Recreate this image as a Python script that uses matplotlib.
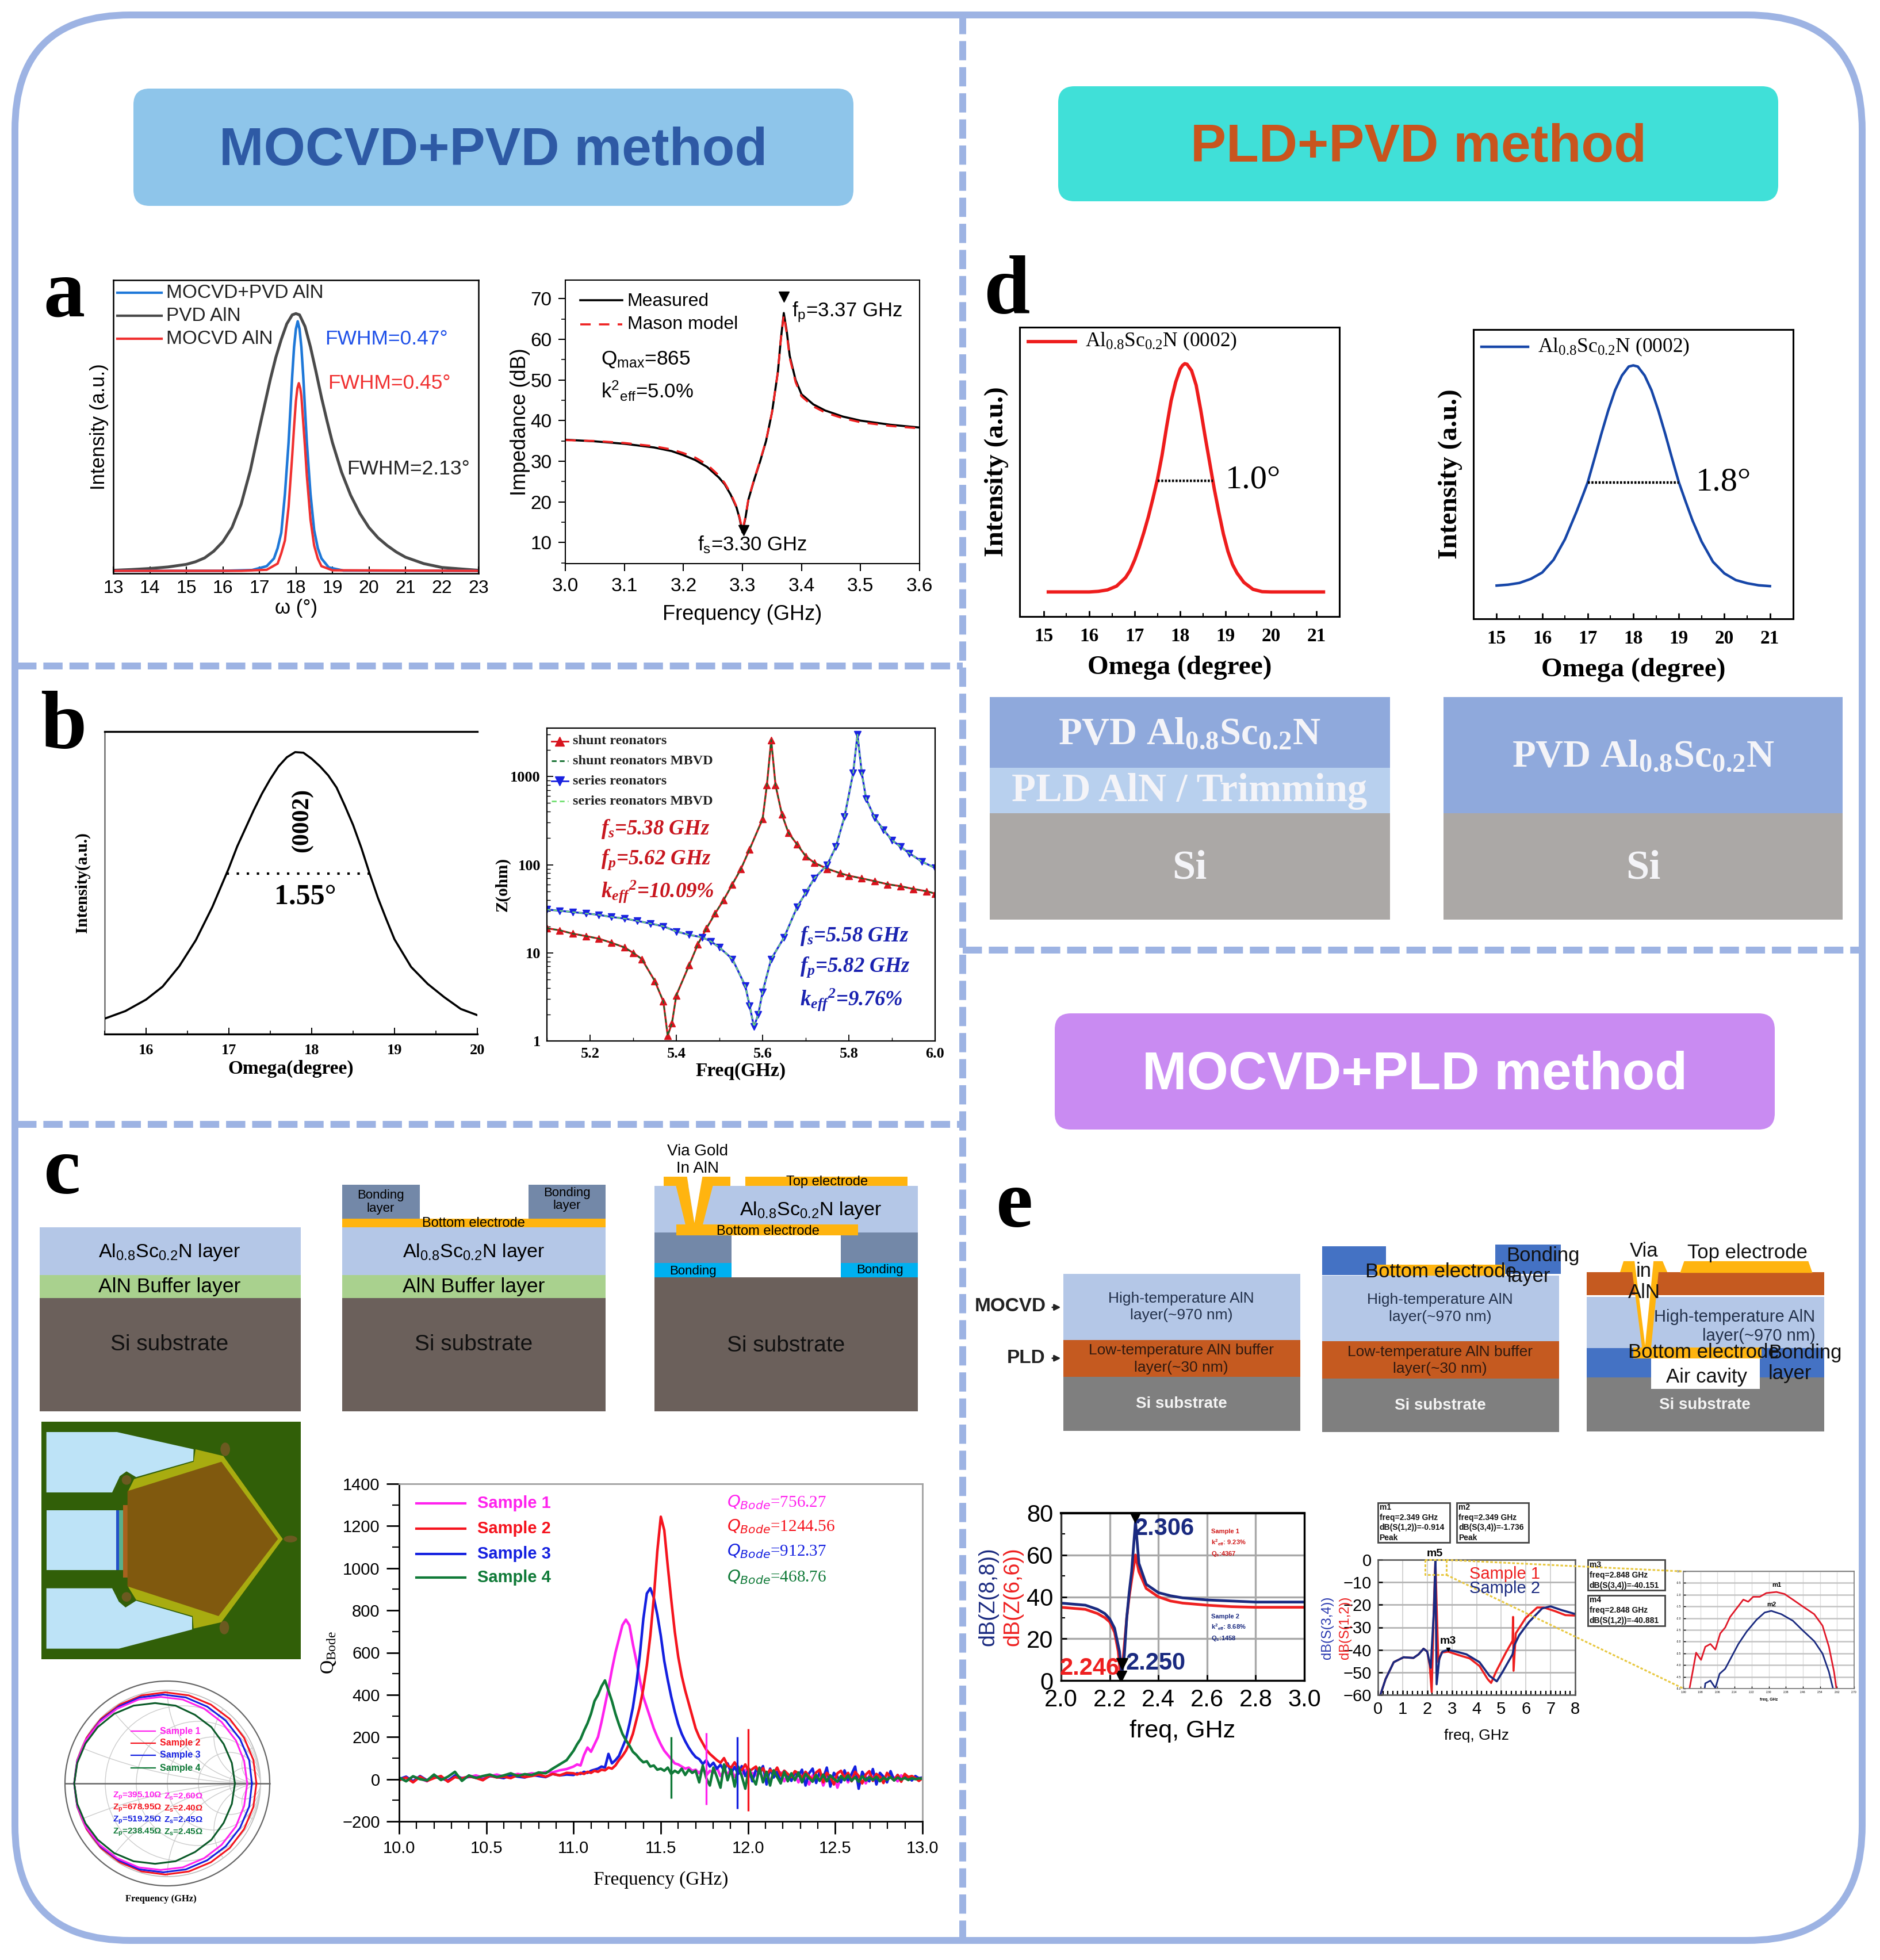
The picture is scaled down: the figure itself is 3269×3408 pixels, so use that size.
#!/usr/bin/env python3
"""
Comparison figure of AlN / AlScN growth methods, panels a to e
"""

import numpy as np
import matplotlib
matplotlib.use('Agg')
import matplotlib.pyplot as plt
from matplotlib.patches import Rectangle, Polygon, Circle, Ellipse, FancyBboxPatch

plt.rcParams['font.family'] = ['Liberation Sans', 'DejaVu Sans']
plt.rcParams['mathtext.default'] = 'regular'

W, H = 3269, 3408
SERIF = ['Liberation Serif', 'DejaVu Serif']

# panel a, rocking curves
a_pvd_x = [13, 13.5, 14, 14.5, 15, 15.25, 15.5, 15.75, 16, 16.25, 16.5, 16.75, 17, 17.15, 17.3, 17.45, 17.6, 17.75, 17.9, 18, 18.1, 18.25, 18.4, 18.55, 18.7, 18.85, 19, 19.25, 19.5, 19.75, 20, 20.25, 20.5, 20.75, 21, 21.5, 22, 23]
a_pvd_y = [0.004, 0.007, 0.011, 0.017, 0.027, 0.037, 0.052, 0.078, 0.115, 0.17, 0.26, 0.39, 0.555, 0.65, 0.745, 0.83, 0.90, 0.96, 0.995, 1.0, 0.995, 0.95, 0.87, 0.775, 0.675, 0.585, 0.50, 0.385, 0.295, 0.225, 0.17, 0.13, 0.10, 0.075, 0.055, 0.03, 0.015, 0.004]
a_mix_x = [13, 16, 16.8, 17.2, 17.4, 17.5, 17.6, 17.7, 17.8, 17.9, 17.95, 18.0, 18.05, 18.1, 18.15, 18.2, 18.3, 18.4, 18.5, 18.6, 18.7, 18.9, 19.3, 23]
a_mix_y = [0.002, 0.002, 0.005, 0.02, 0.05, 0.09, 0.15, 0.30, 0.50, 0.76, 0.87, 0.94, 0.97, 0.94, 0.87, 0.76, 0.50, 0.30, 0.16, 0.09, 0.05, 0.015, 0.003, 0.002]
a_mocvd_x = [13, 16.5, 17.2, 17.5, 17.6, 17.7, 17.8, 17.9, 17.95, 18.0, 18.04, 18.08, 18.12, 18.15, 18.2, 18.25, 18.3, 18.4, 18.5, 18.6, 18.7, 19, 23]
a_mocvd_y = [0.002, 0.002, 0.006, 0.03, 0.07, 0.12, 0.25, 0.45, 0.56, 0.66, 0.71, 0.73, 0.71, 0.68, 0.58, 0.48, 0.37, 0.20, 0.10, 0.05, 0.02, 0.004, 0.002]

a_freq = [3.00, 3.05, 3.10, 3.15, 3.18, 3.20, 3.22, 3.24, 3.26, 3.27, 3.28, 3.29, 3.295, 3.30, 3.305, 3.31, 3.32, 3.33, 3.34, 3.35, 3.36, 3.365, 3.37, 3.375, 3.38, 3.39, 3.40, 3.42, 3.44, 3.47, 3.50, 3.55, 3.60]
a_measured = [35.3, 34.9, 34.3, 33.4, 32.5, 31.5, 30.3, 28.6, 26.0, 24.3, 21.8, 18.6, 16, 12.5, 16, 20.5, 25.5, 30, 35, 42, 52, 60, 66.5, 62, 56, 50, 46.5, 44, 42.5, 41, 40, 39, 38.3]
a_mason = [35.2, 35.0, 34.5, 33.7, 32.9, 32.0, 30.9, 29.2, 26.5, 24.6, 22.1, 18.8, 16.2, 13.0, 16.2, 20.6, 25.7, 30.2, 35.1, 42, 52, 60, 66, 61.5, 55.5, 49.5, 46, 43.5, 42, 40.6, 39.6, 38.7, 38.1]

# panel b
b_omega = [15.5, 15.75, 16, 16.2, 16.4, 16.6, 16.8, 17, 17.1, 17.2, 17.3, 17.4, 17.5, 17.6, 17.7, 17.8, 17.9, 18, 18.1, 18.2, 18.3, 18.4, 18.5, 18.6, 18.7, 18.8, 18.9, 19, 19.2, 19.4, 19.6, 19.8, 20]
b_intensity = [0.051, 0.076, 0.114, 0.157, 0.224, 0.31, 0.42, 0.549, 0.62, 0.68, 0.74, 0.795, 0.843, 0.885, 0.915, 0.932, 0.93, 0.91, 0.885, 0.855, 0.815, 0.755, 0.691, 0.615, 0.53, 0.45, 0.38, 0.313, 0.222, 0.166, 0.122, 0.083, 0.0625]

b_shunt_f = [5.10, 5.13, 5.16, 5.19, 5.22, 5.25, 5.28, 5.30, 5.32, 5.35, 5.37, 5.38, 5.39, 5.40, 5.43, 5.45, 5.47, 5.49, 5.51, 5.53, 5.55, 5.57, 5.60, 5.61, 5.62, 5.63, 5.645, 5.66, 5.68, 5.70, 5.72, 5.75, 5.78, 5.80, 5.83, 5.86, 5.89, 5.92, 5.95, 5.98, 6.00]
b_shunt_z = [19, 18, 16.5, 15.5, 14.5, 13, 11.5, 10, 8.5, 4.8, 2.8, 1.15, 1.6, 3.3, 7.3, 12.5, 19, 28, 40, 60, 90, 150, 330, 800, 2600, 800, 370, 230, 170, 125, 105, 90, 80, 75, 70, 65, 60, 57, 53, 50, 47]
b_series_f = [5.10, 5.13, 5.16, 5.19, 5.22, 5.25, 5.28, 5.31, 5.34, 5.37, 5.40, 5.43, 5.46, 5.48, 5.50, 5.53, 5.56, 5.57, 5.58, 5.59, 5.60, 5.62, 5.65, 5.68, 5.70, 5.72, 5.75, 5.77, 5.79, 5.81, 5.82, 5.83, 5.84, 5.86, 5.88, 5.90, 5.92, 5.94, 5.97, 6.00]
b_series_z = [31, 30, 29, 28, 27, 25.5, 24.5, 23, 21.5, 20, 17.5, 16, 15, 13.5, 11.5, 8.5, 4.2, 2.5, 1.45, 2, 3.6, 8.5, 15, 33, 48, 70, 100, 160, 350, 1100, 3000, 1100, 560, 340, 250, 190, 160, 135, 108, 92]

# panel c, Q Bode curves, rise and peak on a shared grid, then each noisy tail
q_freq = np.r_[np.linspace(10, 10.96, 25), np.linspace(11, 11.68, 35)]
q_sample1 = [5, -8, 12, 3, -10, 15, 8, -5, 14, 6, 10, 18, 8, 14, 22, 12, 18, 25, 20, 28, 24, 35, 32, 42, 48,
             60, 70, 65, 115, 150, 130, 165, 200, 270, 350, 430, 520, 600, 665, 730, 756, 730, 640, 560, 470, 390, 340, 290, 240, 200, 165, 135, 115, 95, 75, 70, 60, 50, 55, 40]
q_sample2 = [-5, 8, -15, 12, -8, 5, 15, -12, 10, 3, 14, 6, -5, 18, 8, 12, 5, 20, 10, 15, 22, 12, 25, 18, 30,
             28, 22, 30, 25, 35, 30, 40, 35, 45, 42, 55, 50, 65, 90, 110, 135, 170, 215, 280, 345, 430, 540, 680, 860, 1080, 1244, 1180, 1010, 850, 700, 580, 490, 420, 360, 300]
q_sample3 = [0, 12, -10, 15, -5, 10, 5, -8, 18, 4, 12, 8, -3, 15, 10, 5, 18, 12, 8, 20, 15, 10, 25, 18, 22,
             20, 28, 25, 35, 30, 40, 45, 50, 60, 55, 120, 75, 90, 110, 150, 190, 260, 340, 450, 590, 760, 880, 905, 860, 780, 680, 560, 470, 390, 320, 260, 215, 180, 150, 125]
q_sample4 = [8, -10, 14, 0, -6, 22, -4, 12, 35, -8, 18, 6, 15, 22, 10, 18, 28, 15, 24, 20, 32, 28, 50, 70, 90,
             135, 165, 190, 230, 265, 310, 370, 400, 440, 468, 420, 370, 310, 260, 215, 185, 160, 130, 115, 95, 80, 85, 60, 65, 45, 50, 40, 55, 25, 40, 30, 50, 20, 45, 30]
q_tail1 = [45, 28, 52, 18, 40, 30, 55, 15, 38, 25, 48, 10, 35, 22, 44, 12, 30, 18, 38, 5, 28, -8, 25, 12, 32, -10, 22, 8, 28, -15, 20, 10, -25, 18, 5, 24, -30, 15, -8, 20, -40, 12, 25, -15, 22, 5, -5, 25, -20, 18, 10, -12, 20, 2, -8, 16, 8, -10, 18, 3, 12, -4, 10, 6, 5]
q_tail2 = [240, 200, 170, 140, 120, 105, 90, 78, 100, 65, 55, 80, 50, 42, 70, 35, 48, 60, 28, 52, 20, 45, 30, 55, 18, 40, 25, 10, 38, 28, 5, 35, 15, -5, 32, 45, -15, 30, 12, -25, 28, 40, 5, 30, -10, 35, 15, -20, 22, 38, -8, 25, 12, -18, 30, 8, -5, 20, -12, 25, 10, 15, 5, -8, 5]
q_tail3 = [105, 95, 72, 90, 60, 78, 50, 68, 42, 75, 30, 58, 25, 62, 15, 48, -10, 45, 30, 62, -25, 50, 8, 35, -12, 40, 20, -8, 32, 15, 45, -30, 28, 50, -18, 35, 5, 55, -35, 30, 12, -15, 42, -5, 25, 60, -45, 35, 8, -10, 48, -25, 30, 12, -15, 38, -5, 20, -8, 18, 10, -6, 15, 4, 8]
q_tail4 = [40, -15, 65, 5, -30, 55, 10, -40, 70, -5, 45, -35, 60, 15, -45, 50, 5, -25, 55, -15, 35, -30, 42, 10, -20, 35, -10, 28, -5, 32, -15, 25, 5, -12, 20, -8, 22, -10, 18, 2, -12, 15, -5, 18, -8, 10, -12, 14, -6, 10, -4, 12, -10, 8, -3, 10, -6, 8, -2, 6, -4, 5, 0, 4, 2]
q_spike_f = [11.56, 11.76, 11.94, 12.0]
q_spike_lo = [-90, -120, -140, -150]
q_spike_hi = [200, 220, 200, 240]
q_labels = ['Sample 1', 'Sample 2', 'Sample 3', 'Sample 4']
q_colors = ['#FF22EE', '#F5141E', '#1420E0', '#107A38']
q_values = ['756.27', '1244.56', '912.37', '468.76']

# panel c, Smith chart loops, upper half from the open end round to the short
smith_s1 = ([0.78, 0.75, 0.67, 0.53, 0.36, 0.15, -0.065, -0.28, -0.49, -0.66, -0.80, -0.88, -0.91], [0, 0.22, 0.42, 0.60, 0.73, 0.82, 0.845, 0.82, 0.73, 0.60, 0.42, 0.22, 0])
smith_s2 = ([0.87, 0.84, 0.75, 0.61, 0.425, 0.21, -0.02, -0.25, -0.465, -0.65, -0.79, -0.88, -0.91], [0, 0.23, 0.445, 0.63, 0.77, 0.86, 0.89, 0.86, 0.77, 0.63, 0.445, 0.23, 0])
smith_s3 = ([0.826, 0.80, 0.71, 0.57, 0.39, 0.18, -0.04, -0.27, -0.475, -0.655, -0.79, -0.88, -0.91], [0, 0.225, 0.434, 0.614, 0.75, 0.84, 0.868, 0.84, 0.75, 0.614, 0.434, 0.225, 0])
smith_s4 = ([0.66, 0.63, 0.55, 0.43, 0.27, 0.08, -0.12, -0.33, -0.52, -0.68, -0.80, -0.88, -0.91], [0, 0.20, 0.385, 0.55, 0.67, 0.76, 0.785, 0.76, 0.68, 0.55, 0.39, 0.20, 0])
smith_zp = ['395.10', '678.95', '519.25', '238.45']
smith_zs = ['2.60', '2.40', '2.45', '2.45']

# panel d
d_red_x = [15.1, 16, 16.2, 16.4, 16.6, 16.8, 16.9, 17, 17.1, 17.2, 17.3, 17.4, 17.5, 17.6, 17.7, 17.8, 17.9, 18, 18.05, 18.1, 18.15, 18.25, 18.35, 18.45, 18.55, 18.65, 18.75, 18.85, 18.95, 19.05, 19.15, 19.25, 19.4, 19.6, 19.8, 20, 21.15]
d_red_y = [0.085, 0.085, 0.087, 0.092, 0.105, 0.135, 0.16, 0.196, 0.24, 0.29, 0.345, 0.408, 0.475, 0.557, 0.655, 0.746, 0.81, 0.856, 0.868, 0.874, 0.872, 0.85, 0.80, 0.715, 0.62, 0.53, 0.44, 0.36, 0.285, 0.225, 0.18, 0.15, 0.118, 0.094, 0.086, 0.085, 0.085]
d_blue_x = [15, 15.25, 15.5, 15.75, 16, 16.25, 16.5, 16.75, 16.9, 17, 17.15, 17.3, 17.45, 17.6, 17.75, 17.9, 18, 18.1, 18.25, 18.4, 18.55, 18.7, 18.85, 19, 19.15, 19.3, 19.5, 19.75, 20, 20.25, 20.5, 20.75, 21]
d_blue_y = [0.115, 0.118, 0.124, 0.138, 0.160, 0.204, 0.275, 0.369, 0.43, 0.472, 0.555, 0.64, 0.72, 0.79, 0.841, 0.872, 0.876, 0.872, 0.841, 0.79, 0.72, 0.64, 0.555, 0.472, 0.405, 0.34, 0.267, 0.197, 0.157, 0.134, 0.123, 0.116, 0.113]

# panel e, impedance
e_z_f1 = [2.0, 2.05, 2.1, 2.15, 2.18, 2.2, 2.22, 2.235, 2.246, 2.255, 2.27, 2.28, 2.29, 2.306, 2.32, 2.35, 2.4, 2.45, 2.5, 2.6, 2.7, 2.8, 3.0]
e_z_s1 = [35, 34.5, 34, 32, 30, 28, 23, 14, 0.5, 10, 30, 40, 48, 60, 52, 44, 40, 38, 37, 36, 35.3, 35, 35]
e_z_f2 = [2.0, 2.05, 2.1, 2.15, 2.18, 2.2, 2.22, 2.24, 2.25, 2.26, 2.27, 2.28, 2.29, 2.306, 2.32, 2.35, 2.4, 2.45, 2.5, 2.6, 2.7, 2.8, 3.0]
e_z_s2 = [37, 36.5, 36, 34, 32, 29.5, 25, 14, 3, 12, 30, 42, 52, 76, 56, 46, 42, 40.5, 39.5, 38.5, 38, 37.5, 37.5]

# panel e, S parameters
e_s_f1 = [0.1, 0.31, 0.64, 1.04, 1.44, 1.65, 1.85, 2.0, 2.1, 2.18, 2.27, 2.33, 2.38, 2.45, 2.58, 2.85, 3.32, 3.72, 4.12, 4.45, 4.59, 4.79, 5.19, 5.46, 5.48, 5.5, 5.59, 5.99, 6.46, 6.73, 7.2, 7.6, 8.0]
e_s_s1 = [-60, -53, -45.5, -43.3, -43.6, -42, -39.5, -40.8, -47, -58.7, -20, 0, -20, -45.5, -41.2, -40.8, -42.5, -43.8, -47.2, -53, -54.7, -49.7, -41.2, -36, -25.4, -49.3, -32.7, -25.9, -21.2, -21.2, -22.9, -24.6, -24.8]
e_s_f2 = [0.1, 0.31, 0.64, 1.04, 1.44, 1.65, 1.85, 2.0, 2.14, 2.27, 2.33, 2.38, 2.49, 2.62, 2.85, 3.18, 3.59, 4.12, 4.52, 4.82, 5.06, 5.46, 5.53, 5.73, 6.13, 6.66, 7.0, 7.46, 8.0]
e_s_s2 = [-60, -53, -45.5, -43.3, -43.6, -42, -39.5, -40.8, -48, -22.4, -0.5, -55.3, -43.8, -40.8, -40, -40.8, -42, -45.5, -51.5, -54, -49.7, -42, -38, -33.5, -27.6, -21.6, -20.7, -22.4, -24.1]
e_in_f1 = [1.929, 1.942, 1.960, 1.983, 2.003, 2.027, 2.050, 2.073, 2.096, 2.119, 2.150, 2.181, 2.204, 2.227, 2.258, 2.289, 2.336, 2.374, 2.413, 2.459, 2.513, 2.552, 2.582, 2.606, 2.617]
e_in_s1 = [-5, -4.37, -3.47, -3.78, -3.22, -3.10, -3.34, -2.65, -2.40, -1.95, -1.58, -1.21, -1.30, -1.09, -1.09, -0.93, -0.885, -0.97, -1.21, -1.50, -1.83, -2.32, -3.22, -4.29, -5]
e_in_f2 = [2.000, 2.003, 2.027, 2.050, 2.070, 2.096, 2.127, 2.158, 2.197, 2.243, 2.281, 2.312, 2.359, 2.413, 2.459, 2.513, 2.552, 2.582, 2.601]
e_in_s2 = [-5, -4.78, -4.66, -4.98, -4.37, -4.16, -3.63, -3.10, -2.57, -2.07, -1.76, -1.69, -1.83, -2.11, -2.52, -2.98, -3.51, -4.29, -5]


# crop coordinates -> picture pixels
def z1(x, y): return x * 1.0714, 400 + y * 0.995
def z2(x, y): return x * 1.0714, 1960 + y * 0.9235
def z3(x, y): return 1680 + x * 1.0134, 420 + y * 0.79
def z4(x, y): return 1680 + x * 1.0134, 2040 + y * 0.637
def z6(x, y): return 2360 + x * 0.574, 2600 + y / 3
def zp(x, y): return 60 + x / 3, 2460 + y / 3
def zs(x, y): return 60 + x / 3, 2900 + y / 3


fig = plt.figure(figsize=(W / 100, H / 100), dpi=100, facecolor='white')
bg = fig.add_axes([0, 0, 1, 1], zorder=0)
bg.set_xlim(0, W)
bg.set_ylim(H, 0)
bg.axis('off')
top = fig.add_axes([0, 0, 1, 1], zorder=20)
top.set_xlim(0, W)
top.set_ylim(H, 0)
top.axis('off')
top.patch.set_alpha(0)


def new_axes(x0, y0, x1, y1, **kw):
    ax = fig.add_axes([x0 / W, 1 - y1 / H, (x1 - x0) / W, (y1 - y0) / H], zorder=5, **kw)
    ax.patch.set_alpha(0)
    return ax


def rect(z, x0, y0, x1, y1, color, zorder=1):
    a, b = z(x0, y0)
    c, d = z(x1, y1)
    bg.add_patch(Rectangle((a, b), c - a, d - b, facecolor=color, edgecolor='none', zorder=zorder))


def poly(z, pts, color, zorder=2):
    bg.add_patch(Polygon([z(*p) for p in pts], closed=True, facecolor=color, edgecolor='none', zorder=zorder))


def label(z, x, y, s, size, color='black', ha='center', va='center', **kw):
    a, b = z(x, y)
    top.text(a, b, s, fontsize=size, color=color, ha=ha, va=va, **kw)


# frame and separators
sep = dict(color='#9DB3E3', lw=8.6, linestyle=(0, (2.8, 1.0)), zorder=1)
bg.plot([1674, 1674], [26, 3374], **sep)
bg.plot([30, 1674], [1158, 1158], **sep)
bg.plot([30, 1674], [1955, 1955], **sep)
bg.plot([1674, 3236], [1652, 1652], **sep)
bg.add_patch(FancyBboxPatch((26, 26), 3212, 3348, boxstyle='round,pad=0,rounding_size=200',
                            facecolor='none', edgecolor='#9DB3E3', linewidth=8.6, zorder=2))

# method headers
for x0, y0, x1, y1, col, txt, tcol in [(232, 154, 1484, 358, '#8EC5EA', 'MOCVD+PVD method', '#2E5AA5'),
                                       (1840, 150, 3092, 350, '#40E0D8', 'PLD+PVD method', '#C8551E'),
                                       (1834, 1762, 3086, 1964, '#C98BF2', 'MOCVD+PLD method', 'white')]:
    bg.add_patch(FancyBboxPatch((x0, y0), x1 - x0, y1 - y0, boxstyle='round,pad=0,rounding_size=28',
                                facecolor=col, edgecolor='none', zorder=1))
    top.text((x0 + x1) / 2, (y0 + y1) / 2 + 7, txt, fontsize=67, fontweight='bold', color=tcol, ha='center', va='center')

# panel letters
for s, x, y in [('a', 112, 515), ('b', 110, 1266), ('c', 108, 2040), ('d', 1750, 510), ('e', 1764, 2098)]:
    top.text(x, y, s, fontsize=104, fontweight='bold', family=SERIF, ha='center', va='center')

# ---- panel a left
ax = new_axes(197, 487, 832, 997)
ax.plot(a_pvd_x, a_pvd_y, color='#4A4A4A', lw=3.6)
ax.plot(a_mix_x, a_mix_y, color='#1E78D8', lw=3.2)
ax.plot(a_mocvd_x, a_mocvd_y, color='#F03030', lw=3)
ax.set_xlim(13, 23)
ax.set_ylim(-0.008, 1.13)
ax.set_xticks(range(13, 24))
ax.set_yticks([])
ax.tick_params(axis='x', direction='in', length=9, width=1.5, labelsize=23, pad=8)
for s in ax.spines.values():
    s.set_linewidth(1.8)
ax.set_xlabel('ω (°)', fontsize=25, labelpad=2)
ax.set_ylabel('Intensity (a.u.)', fontsize=25, labelpad=6)
for col, yy, txt in [('#1E78D8', 110, 'MOCVD+PVD AlN'), ('#4A4A4A', 150, 'PVD AlN'), ('#F03030', 190, 'MOCVD AlN')]:
    top.plot(*zip(z1(190, yy), z1(262, yy)), color=col, lw=3)
    label(z1, 270, yy, txt, 24, color='#222222', ha='left')
label(z1, 527, 190, 'FWHM=0.47°', 25.5, color='#1E50E8', ha='left')
label(z1, 532, 268, 'FWHM=0.45°', 25.5, color='#F03030', ha='left')
label(z1, 563, 418, 'FWHM=2.13°', 25.5, color='#222222', ha='left')

# ---- panel a right
ax = new_axes(983, 487, 1599, 980)
ax.plot(a_freq, a_measured, color='black', lw=2.6)
ax.plot(a_freq, a_mason, color='#EE2020', lw=2.6, linestyle=(0, (5, 4)))
ax.plot([3.37], [70.5], 'v', color='black', ms=13)
ax.plot([3.302], [13], 'v', color='black', ms=13)
ax.set_xlim(3.0, 3.6)
ax.set_ylim(4.8, 74.6)
ax.set_xticks(np.arange(3.0, 3.61, 0.1))
ax.set_yticks(range(10, 71, 10))
ax.set_yticks(range(5, 75, 10), minor=True)
ax.tick_params(axis='both', which='major', length=9, width=1.5, labelsize=24, pad=8)
ax.tick_params(axis='y', which='minor', length=5, width=1.2)
for s in ax.spines.values():
    s.set_linewidth(1.5)
ax.set_xlabel('Frequency (GHz)', fontsize=26, labelpad=12)
ax.set_ylabel('Impedance (dB)', fontsize=26, labelpad=0)
top.plot(*zip(z1(942, 123), z1(1010, 123)), color='black', lw=2.6)
top.plot(*zip(z1(942, 165), z1(1010, 165)), color='#EE2020', lw=2.6, linestyle=(0, (5, 4)))
label(z1, 1018, 125, 'Measured', 23, ha='left')
label(z1, 1018, 165, 'Mason model', 23, ha='left')
label(z1, 975, 226, 'Q$_{max}$=865', 25.5, ha='left')
label(z1, 975, 281, 'k$^{2}$$_{eff}$=5.0%', 25, ha='left')
label(z1, 1285, 143, 'f$_{p}$=3.37 GHz', 25, ha='left')
label(z1, 1132, 550, 'f$_{s}$=3.30 GHz', 25, ha='left')

# ---- panel b left
ax = new_axes(182, 1272, 830, 1798)
ax.plot(b_omega, b_intensity, color='black', lw=2.6)
ax.set_xlim(15.5, 20)
ax.set_ylim(0, 1)
ax.set_xticks(range(16, 21))
ax.set_xticks(np.arange(15.5, 20.1, 0.5), minor=True)
ax.set_yticks([])
ax.spines['right'].set_visible(False)
ax.spines['left'].set_linewidth(1)
ax.spines['top'].set_linewidth(2.4)
ax.spines['bottom'].set_linewidth(2.4)
ax.tick_params(axis='x', which='major', direction='in', length=8, width=1.4, pad=12)
ax.tick_params(axis='x', which='minor', direction='in', length=4, width=1.2)
for t in ax.get_xticklabels():
    t.set_family(SERIF)
    t.set_fontweight('bold')
    t.set_fontsize(19)
ax.set_xlabel('Omega(degree)', fontsize=24, fontweight='bold', family=SERIF, labelpad=4)
ax.set_ylabel('Intensity(a.u.)', fontsize=21, fontweight='bold', family=SERIF, labelpad=18)
ax.plot([16.97, 18.7], [0.53, 0.53], color='black', lw=3, linestyle=(0, (1, 3.2)))
label(z1, 490, 1032, '(0002)', 30, fontweight='bold', family=SERIF, rotation=90)
label(z1, 495, 1165, '1.55°', 36, fontweight='bold', family=SERIF)

# ---- panel b right
ax = new_axes(951, 1266, 1626, 1810)
ax.plot(b_shunt_f, b_shunt_z, '^', color='#D8141E', ms=8.5, mec='#D8141E', ls='-', lw=2.4)
ax.plot(b_shunt_f, b_shunt_z, color='#0E6B2A', lw=1.6, linestyle=(0, (3, 2)))
ax.plot(b_series_f, b_series_z, 'v', color='#1A22E0', ms=8.5, mec='#1A22E0', ls='-', lw=2.4)
ax.plot(b_series_f, b_series_z, color='#70E070', lw=1.6, linestyle=(0, (3, 2)))
ax.set_yscale('log')
ax.set_xlim(5.1, 6.0)
ax.set_ylim(1, 3548)
ax.set_xticks(np.arange(5.2, 6.01, 0.2))
ax.set_xticks(np.arange(5.1, 6.01, 0.1), minor=True)
ax.set_yticks([1, 10, 100, 1000])
ax.set_yticklabels(['1', '10', '100', '1000'])
ax.tick_params(axis='both', which='major', direction='in', length=8, width=1.3, pad=8)
ax.tick_params(axis='both', which='minor', direction='in', length=4, width=1.0)
for t in ax.get_xticklabels() + ax.get_yticklabels():
    t.set_family(SERIF)
    t.set_fontweight('bold')
    t.set_fontsize(19)
for s in ax.spines.values():
    s.set_linewidth(1.6)
ax.set_xlabel('Freq(GHz)', fontsize=24, fontweight='bold', family=SERIF, labelpad=2)
ax.set_ylabel('Z(ohm)', fontsize=21, fontweight='bold', family=SERIF, labelpad=0)
for yy, col, mk, ls, txt in [(893, '#D8141E', '^', '-', 'shunt reonators'),
                             (928, '#0E6B2A', None, (0, (3, 2)), 'shunt reonators MBVD'),
                             (963, '#1A22E0', 'v', '-', 'series reonators'),
                             (998, '#70E070', None, (0, (3, 2)), 'series reonators MBVD')]:
    top.plot(*zip(z1(895, yy), z1(922, yy)), color=col, lw=2, ls=ls)
    if mk:
        top.plot(*z1(908, yy), mk, color=col, ms=11)
    label(z1, 930, yy, txt, 17.5, ha='left', family=SERIF, fontweight='bold', color='#222222')
rserif = dict(family=SERIF, fontweight='bold', ha='left', style='italic')
label(z1, 975, 1047, 'f$_{s}$=5.38 GHz', 26.5, color='#C8161E', **rserif)
label(z1, 975, 1100, 'f$_{p}$=5.62 GHz', 26.5, color='#C8161E', **rserif)
label(z1, 975, 1156, 'k$_{eff}$$^{2}$=10.09%', 26.5, color='#C8161E', **rserif)
label(z1, 1298, 1234, 'f$_{s}$=5.58 GHz', 26.5, color='#1A22B0', **rserif)
label(z1, 1298, 1288, 'f$_{p}$=5.82 GHz', 26.5, color='#1A22B0', **rserif)
label(z1, 1298, 1345, 'k$_{eff}$$^{2}$=9.76%', 26.5, color='#1A22B0', **rserif)

# ---- panel c, layer stacks
C_BLUE, C_GREEN, C_GREY, C_GOLD, C_BOND, C_CYAN = '#B4C7E7', '#A9D18E', '#6B605B', '#FFB40F', '#7388A8', '#00B0F0'
rect(z2, 64, 188, 488, 278, C_BLUE)
rect(z2, 64, 278, 488, 322, C_GREEN)
rect(z2, 64, 322, 488, 535, C_GREY)
rect(z2, 555, 188, 983, 278, C_BLUE)
rect(z2, 555, 278, 983, 322, C_GREEN)
rect(z2, 555, 322, 983, 535, C_GREY)
rect(z2, 555, 172, 983, 188, C_GOLD)
rect(z2, 555, 108, 681, 172, C_BOND)
rect(z2, 858, 108, 983, 172, C_BOND)
rect(z2, 1062, 110, 1490, 198, C_BLUE)
rect(z2, 1062, 198, 1187, 256, C_BOND)
rect(z2, 1365, 198, 1490, 256, C_BOND)
rect(z2, 1062, 256, 1187, 283, C_CYAN)
rect(z2, 1365, 256, 1490, 283, C_CYAN)
rect(z2, 1062, 283, 1490, 535, C_GREY)
rect(z2, 1210, 93, 1473, 110, C_GOLD)
rect(z2, 1077, 93, 1185, 110, C_GOLD)
rect(z2, 1098, 183, 1393, 204, C_GOLD)
poly(z2, [(1097, 110), (1113, 186), (1140, 186), (1157, 110), (1137, 110), (1127, 180), (1117, 110)], C_GOLD)
poly(z2, [(1115, 93), (1140, 93), (1127, 180)], 'white', zorder=3)

for x in (275, 769):
    label(z2, x, 235, 'Al$_{0.8}$Sc$_{0.2}$N layer', 24.5)
    label(z2, x, 301, 'AlN Buffer layer', 25.5)
    label(z2, x, 409, 'Si substrate', 28, color='#111111')
label(z2, 1276, 411, 'Si substrate', 28, color='#111111')
label(z2, 1316, 156, 'Al$_{0.8}$Sc$_{0.2}$N layer', 24.5)
label(z2, 769, 181, 'Bottom electrode', 17)
label(z2, 1246, 196, 'Bottom electrode', 17)
label(z2, 1342, 103, 'Top electrode', 17)
label(z2, 618, 141, 'Bonding\nlayer', 16, linespacing=1.1)
label(z2, 920, 136, 'Bonding\nlayer', 16, linespacing=1.1)
label(z2, 1125, 271, 'Bonding', 16)
label(z2, 1428, 269, 'Bonding', 16)
label(z2, 1132, 62, 'Via Gold\nIn AlN', 20, linespacing=1.2)

# ---- panel c, device layout
rect(zp, 35, 35, 1390, 1275, '#315F08')
PAD = '#BDE3F7'
poly(zp, [(62, 90), (430, 90), (830, 180), (828, 240), (530, 325), (480, 295), (445, 320), (405, 405), (62, 405)], PAD)
poly(zp, [(62, 498), (425, 498), (425, 810), (62, 810)], PAD)
poly(zp, [(62, 905), (405, 905), (440, 975), (475, 1005), (530, 970), (822, 1055), (822, 1120), (440, 1220), (62, 1220)], PAD)
poly(zp, [(425, 498), (440, 498), (440, 810), (425, 810)], '#2450C8')
poly(zp, [(440, 498), (462, 498), (462, 810), (440, 810)], '#5AB08A')
poly(zp, [(462, 470), (490, 470), (490, 850), (462, 850)], '#A8621E')
poly(zp, [(840, 180), (985, 215), (1295, 648), (975, 1082), (830, 1115), (825, 1050), (530, 965), (490, 900), (490, 395), (520, 335), (830, 245)], '#A8AC10')
poly(zp, [(485, 398), (975, 245), (1270, 648), (960, 1050), (485, 895)], '#80590E', zorder=3)
for cx, cy, ww, hh in [(995, 180, 50, 70), (1335, 648, 70, 35), (990, 1110, 50, 70), (480, 340, 50, 50), (480, 950, 50, 50)]:
    a, b = zp(cx, cy)
    bg.add_patch(Ellipse((a, b), ww / 3, hh / 3, facecolor='#6B5A20', edgecolor='none', zorder=2))

# ---- panel c, Smith chart
ax = new_axes(291 - 190, 3101 - 190, 291 + 190, 3101 + 190)
ax.set_xlim(-190 / 178, 190 / 178)
ax.set_ylim(-190 / 178, 190 / 178)
ax.axis('off')
outer = Circle((0, 0), 1, facecolor='none', edgecolor='#666666', lw=1.6)
ax.add_patch(outer)
inner = Circle((0, 0), 0.91, facecolor='none', edgecolor='#BBBBBB', lw=1.2)
ax.add_patch(inner)
for r in [0.2, 0.5, 1, 2, 5]:
    c = Circle((0.91 * r / (1 + r), 0), 0.91 / (1 + r), facecolor='none', edgecolor='#CCCCCC', lw=1.0)
    ax.add_patch(c)
    c.set_clip_path(inner)
for xv in [0.2, 0.5, 1, 2, 5]:
    for sgn in (1, -1):
        c = Circle((0.91, sgn * 0.91 / xv), 0.91 / xv, facecolor='none', edgecolor='#CCCCCC', lw=1.0)
        ax.add_patch(c)
        c.set_clip_path(inner)
ax.plot([-1, 1], [0, 0], color='#666666', lw=1.8)
for (re, im), col in zip([smith_s2, smith_s3, smith_s1, smith_s4], ['#F5141E', '#1420E0', '#FF22EE', '#0A5A28']):
    re, im = np.array(re), np.array(im)
    ax.plot(np.r_[re, re[::-1]], np.r_[im, -im[::-1]], color=col, lw=2.2)
for i, yy in enumerate([330, 392, 455, 522]):
    col = q_colors[i]
    top.plot(*zip(zs(505, yy), zs(630, yy)), color=col, lw=1.6)
    label(zs, 655, yy, q_labels[i], 11.5, color=col, ha='left', fontweight='bold')
for i, yy in enumerate([670, 733, 795, 858]):
    col = q_colors[i]
    label(zs, 665, yy, 'Z$_{p}$=' + smith_zp[i] + 'Ω', 11, color=col, ha='right', fontweight='bold')
    label(zs, 880, yy, 'Z$_{s}$=' + smith_zs[i] + 'Ω', 11, color=col, ha='right', fontweight='bold')
label(zs, 660, 1205, 'Frequency (GHz)', 12, family=SERIF, fontweight='bold')

# ---- panel c, Q Bode
ax = new_axes(694, 2580, 1604, 3167)
for y, tail, col in zip([q_sample1, q_sample3, q_sample2, q_sample4], [q_tail1, q_tail3, q_tail2, q_tail4],
                        [q_colors[0], q_colors[2], q_colors[1], q_colors[3]]):
    ax.plot(np.r_[q_freq, np.linspace(11.7, 13, len(tail))], np.r_[y, tail], color=col, lw=3.2)
for f, lo, hi, col in zip(q_spike_f, q_spike_lo, q_spike_hi, [q_colors[3], q_colors[0], q_colors[2], q_colors[1]]):
    ax.vlines(f, lo, hi, color=col, lw=2.4)
ax.set_xlim(10, 13)
ax.set_ylim(-200, 1400)
ax.set_xticks(np.arange(10, 13.01, 0.5))
ax.set_xticklabels(['10.0', '10.5', '11.0', '11.5', '12.0', '12.5', '13.0'])
ax.set_xticks(np.arange(10, 13.01, 0.1), minor=True)
ax.set_yticks(range(-200, 1401, 200))
ax.set_yticklabels(['−200', '0', '200', '400', '600', '800', '1000', '1200', '1400'])
ax.set_yticks(range(-200, 1401, 100), minor=True)
ax.tick_params(axis='both', which='major', length=16, width=2, labelsize=21, pad=8)
ax.tick_params(axis='both', which='minor', length=9, width=1.6)
ax.spines['top'].set_color('#A0A0A0')
ax.spines['right'].set_color('#A0A0A0')
for k in ax.spines:
    ax.spines[k].set_linewidth(2)
ax.set_xlabel('Frequency (GHz)', fontsize=24, family=SERIF, labelpad=18)
ax.set_ylabel('Q$_{Bode}$', fontsize=24, family=SERIF, labelpad=6)
for i, (yy, qy) in enumerate(zip([708, 756, 804, 848], [706, 752, 798, 847])):
    top.plot(*zip(z2(676, yy), z2(755, yy)), color=q_colors[i], lw=3)
    label(z2, 775, yy, q_labels[i], 21, color=q_colors[i], ha='left', fontweight='bold')
    label(z2, 1180, qy, '$\\mathit{Q}_{\\mathit{Bode}}$=' + q_values[i], 21, color=q_colors[i], ha='left', family=SERIF)

# ---- panel d
for x0, y0, x1, y1, xs, ys, col, lw, lim, dot, note, nx, ny in [
        (1773, 569, 2329, 1072, d_red_x, d_red_y, '#EE1C1C', 4.2, (14.47, 21.5), (17.5, 18.72, 0.47), '1.0°', 445, 525),
        (2562, 573, 3118, 1076, d_blue_x, d_blue_y, '#1646A8', 3.2, (14.49, 21.51), (17, 19, 0.472), '1.8°', 1252, 530)]:
    ax = new_axes(x0, y0, x1, y1)
    ax.plot(xs, ys, color=col, lw=lw)
    ax.set_xlim(*lim)
    ax.set_ylim(0, 1)
    ax.set_xticks(range(15, 22))
    ax.set_xticks(np.arange(15, 21.01, 0.5), minor=True)
    ax.set_yticks([])
    ax.tick_params(axis='x', which='major', direction='in', length=7, width=2, pad=14)
    ax.tick_params(axis='x', which='minor', direction='in', length=4, width=1.5)
    for t in ax.get_xticklabels():
        t.set_family(SERIF)
        t.set_fontweight('bold')
        t.set_fontsize(24)
    for s in ax.spines.values():
        s.set_linewidth(2.2)
    ax.set_xlabel('Omega (degree)', fontsize=34, fontweight='bold', family=SERIF, labelpad=12)
    ax.set_ylabel('Intensity (a.u.)', fontsize=34, fontweight='bold', family=SERIF, labelpad=14)
    ax.plot(dot[:2], [dot[2]] * 2, color='black', lw=3.2, linestyle=(0, (0.8, 0.6)))
    label(z3, nx, ny, note, 42, family=SERIF, ha='left')
    lx = 107 if col == '#EE1C1C' else 884
    ly = 220 if col == '#EE1C1C' else 232
    top.plot(*zip(z3(lx, ly), z3(lx + 80, ly)), color=col, lw=lw)
    label(z3, lx + 97, ly, 'Al$_{0.8}$Sc$_{0.2}$N (0002)', 25.5, family=SERIF, ha='left', fontweight='medium')

D_BLUE, D_LIGHT, D_GREY = '#8FA9DC', '#B8D0EE', '#ABA8A6'
rect(z3, 40, 1003, 727, 1158, D_BLUE)
rect(z3, 40, 1158, 727, 1258, D_LIGHT)
rect(z3, 40, 1258, 727, 1493, D_GREY)
rect(z3, 819, 1003, 1504, 1258, D_BLUE)
rect(z3, 819, 1258, 1504, 1493, D_GREY)
white = dict(color='#F4F4F8', fontweight='bold', family=SERIF)
label(z3, 383, 1085, 'PVD Al$_{0.8}$Sc$_{0.2}$N', 48, **white)
label(z3, 383, 1210, 'PLD AlN / Trimming', 49.5, **white)
label(z3, 383, 1380, 'Si', 52, **white)
label(z3, 1162, 1135, 'PVD Al$_{0.8}$Sc$_{0.2}$N', 48, **white)
label(z3, 1162, 1380, 'Si', 52, **white)

# ---- panel e, layer stacks
E_BLUE, E_ORANGE, E_GREY, E_BOND = '#B4C7E7', '#C55A20', '#7F7F7F', '#4472C4'
rect(z4, 167, 275, 573, 455, E_BLUE)
rect(z4, 167, 455, 573, 555, E_ORANGE)
rect(z4, 167, 555, 573, 703, E_GREY)
rect(z4, 611, 280, 1017, 458, E_BLUE)
rect(z4, 611, 458, 1017, 560, E_ORANGE)
rect(z4, 611, 560, 1017, 707, E_GREY)
rect(z4, 611, 200, 720, 278, E_BOND)
rect(z4, 908, 195, 1020, 275, E_BOND)
rect(z4, 705, 250, 925, 280, C_GOLD)
rect(z4, 1065, 270, 1472, 333, E_ORANGE)
rect(z4, 1065, 338, 1472, 478, E_BLUE)
rect(z4, 1065, 478, 1472, 558, E_BOND)
rect(z4, 1065, 558, 1472, 705, E_GREY)
rect(z4, 1175, 505, 1362, 588, 'white', zorder=2)
rect(z4, 1145, 475, 1365, 505, C_GOLD, zorder=2)
poly(z4, [(1225, 272), (1232, 240), (1445, 240), (1452, 272)], C_GOLD)
poly(z4, [(1122, 270), (1128, 240), (1195, 240), (1203, 270)], C_GOLD)
poly(z4, [(1143, 270), (1160, 480), (1175, 480), (1188, 270)], C_GOLD)
poly(z4, [(1146, 230), (1180, 230), (1165, 470)], 'white', zorder=3)

for x, dy in [(369, 0), (813, 4)]:
    label(z4, x, 342 + dy, 'High-temperature AlN', 19, color='#22304A')
    label(z4, x, 388 + dy, 'layer(~970 nm)', 19, color='#22304A')
    label(z4, x, 484 + dy, 'Low-temperature AlN buffer', 19, color='#301A10')
    label(z4, x, 530 + dy, 'layer(~30 nm)', 19, color='#301A10')
    label(z4, x, 630 + dy, 'Si substrate', 20, color='#F4F4F4', fontweight='bold')
label(z4, 1267, 632, 'Si substrate', 20, color='#F4F4F4', fontweight='bold')
label(z4, 1318, 392, 'High-temperature AlN', 21, color='#22304A')
label(z4, 1360, 445, 'layer(~970 nm)', 21, color='#22304A')
label(z4, 1270, 557, 'Air cavity', 25, color='#111111')
label(z4, 1340, 217, 'Top electrode', 25, color='#111111')
label(z4, 1163, 213, 'Via', 25, color='#111111')
label(z4, 1163, 268, 'in', 25, color='#111111')
label(z4, 1163, 325, 'AlN', 25, color='#111111')
label(z4, 1265, 489, 'Bottom electrode', 25, color='#111111')
label(z4, 1440, 491, 'Bonding', 25, color='#111111')
label(z4, 1413, 547, 'layer', 25, color='#111111')
label(z4, 815, 270, 'Bottom electrode', 25, color='#111111')
label(z4, 990, 225, 'Bonding', 25, color='#111111')
label(z4, 965, 282, 'layer', 25, color='#111111')
label(z4, 76, 364, 'MOCVD', 24, fontweight='bold', color='#222222')
label(z4, 103, 505, 'PLD', 24, fontweight='bold', color='#222222')
for yy in (366, 505):
    a = z4(145, yy)
    b = z4(165, yy)
    top.annotate('', xy=b, xytext=a, arrowprops=dict(arrowstyle='-|>', color='#222222', lw=2, mutation_scale=16))

# ---- panel e, impedance chart
ax = new_axes(1845, 2631, 2268, 2922)
ax.plot(e_z_f1, e_z_s1, color='#EE2020', lw=3.4)
ax.plot(e_z_f2, e_z_s2, color='#1A2A80', lw=3.4)
ax.plot([2.306], [78], 'v', color='black', ms=14)
ax.plot([2.25], [8], 'v', color='black', ms=14)
ax.plot([2.246], [2], 'v', color='black', ms=14)
ax.set_xlim(2, 3)
ax.set_ylim(0, 80)
ax.set_xticks(np.arange(2, 3.01, 0.2))
ax.set_yticks(range(0, 81, 20))
ax.set_yticks(range(0, 81, 10), minor=True)
ax.grid(True, which='major', color='#A8A8A8', lw=2.4)
ax.tick_params(axis='both', which='major', direction='in', length=7, width=2, labelsize=30, pad=10)
ax.tick_params(axis='y', which='minor', direction='in', length=5, width=1.6)
for s in ax.spines.values():
    s.set_linewidth(2.4)
ax.spines['left'].set_color('#333333')
ax.spines['top'].set_linewidth(3)
ax.set_xlabel('freq, GHz', fontsize=31, labelpad=10)
label(z4, 38, 1155, 'dB(Z(8,8))', 27, color='#1A2A80', rotation=90)
label(z4, 80, 1155, 'dB(Z(6,6))', 27, color='#EE2020', rotation=90)
label(z4, 340, 970, '2.306', 30, color='#1A2A80', fontweight='bold')
label(z4, 325, 1338, '2.250', 30, color='#1A2A80', fontweight='bold')
label(z4, 212, 1352, '2.246', 30, color='#EE2020', fontweight='bold')
label(z4, 420, 1010, 'Sample 1\nk$^{2}$$_{eff}$: 9.23%\nQ$_{s}$:4367', 8, color='#D01818', ha='left', fontweight='bold', linespacing=1.5)
label(z4, 420, 1242, 'Sample 2\nk$^{2}$$_{eff}$: 8.68%\nQ$_{s}$:1458', 8, color='#1A2A80', ha='left', fontweight='bold', linespacing=1.5)

# ---- panel e, S parameter chart
ax = new_axes(2396, 2712, 2739, 2947)
ax.plot(e_s_f1, e_s_s1, color='#EE2020', lw=2.6)
ax.plot(e_s_f2, e_s_s2, color='#1A2A80', lw=2.6)
ax.set_xlim(0, 8)
ax.set_ylim(-60, 0)
ax.set_xticks(range(9))
ax.set_xticks(np.arange(0, 8.01, 0.2), minor=True)
ax.set_yticks(range(-60, 1, 10))
ax.set_yticklabels(['−60', '−50', '−40', '−30', '−20', '−10', '0'])
ax.grid(True, axis='y', color='#B4B4B4', lw=2)
ax.grid(True, axis='x', color='#CCCCCC', lw=1.2)
ax.tick_params(axis='both', which='major', direction='in', length=6, width=1.8, labelsize=21, pad=8)
ax.tick_params(axis='x', which='minor', direction='in', length=5, width=1.6)
for s in ax.spines.values():
    s.set_linewidth(1.8)
    s.set_color('#555555')
ax.set_xlabel('freq, GHz', fontsize=19, labelpad=14)
label(z4, 620, 1240, 'dB(S(3,4))', 17, color='#2A3AB0', rotation=90)
label(z4, 650, 1240, 'dB(S(1,2))', 17, color='#EE2020', rotation=90)
label(z6, 235, 305, 'm5', 14, fontweight='bold')
label(z6, 275, 760, 'm3', 14, fontweight='bold')
top.plot(*z6(275, 805), 'v', color='black', ms=5)
label(z6, 340, 412, 'Sample 1', 21, color='#EE2020', ha='left')
label(z6, 340, 487, 'Sample 2', 21, color='#1A2A80', ha='left')

# marker read-out boxes
for x0, y0, x1, y1, txt in [(62, 40, 280, 245, 'm1\nfreq=2.349 GHz\ndB(S(1,2))=-0.914\nPeak'),
                            (302, 40, 520, 245, 'm2\nfreq=2.349 GHz\ndB(S(3,4))=-1.736\nPeak'),
                            (698, 337, 932, 495, 'm3\nfreq=2.848 GHz\ndB(S(3,4))=-40.151'),
                            (698, 522, 932, 680, 'm4\nfreq=2.848 GHz\ndB(S(1,2))=-40.881')]:
    a, b = z6(x0, y0)
    c, d = z6(x1, y1)
    top.add_patch(Rectangle((a, b), c - a, d - b, fc='white', ec='#444444', lw=2))
    top.text(a + 3, (b + d) / 2, txt, fontsize=10, fontweight='bold', va='center', ha='left', linespacing=1.35, color='#111111')

# zoom guides
guide = dict(color='#E8C840', lw=2.2, linestyle=(0, (1.5, 1)))
top.plot(*zip(z6(205, 337), z6(205, 415), z6(270, 415), z6(270, 337), z6(205, 337)), **guide)
top.plot(*zip(z6(270, 337), z6(988, 397)), **guide)
top.plot(*zip(z6(270, 415), z6(988, 1008)), **guide)

# ---- panel e, inset
ax = new_axes(2927, 2732, 3224, 2936)
ax.plot(e_in_f1, e_in_s1, color='#E01828', lw=2)
ax.plot(e_in_f2, e_in_s2, color='#1A2A80', lw=2)
ax.set_xlim(1.9, 2.7)
ax.set_ylim(-5, 0)
ax.set_xticks(np.arange(1.9, 2.701, 0.08))
ax.set_xticklabels(['%.2f' % v for v in np.arange(1.9, 2.701, 0.08)])
ax.set_yticks(np.arange(-5, 0.01, 0.5))
ax.set_yticklabels(['%.1f' % v for v in np.arange(-5, 0.01, 0.5)])
ax.grid(True, axis='y', color='#C4C4C4', lw=1.8)
ax.grid(True, axis='x', color='#DDDDDD', lw=1)
ax.tick_params(axis='both', direction='in', length=3, width=1, labelsize=3.5, pad=3)
for s in ax.spines.values():
    s.set_color('#777777')
    s.set_linewidth(1.2)
ax.set_xlabel('freq, GHz', fontsize=5, fontweight='bold', labelpad=5)
label(z6, 1270, 467, 'm1', 8, fontweight='bold')
label(z6, 1255, 570, 'm2', 8, fontweight='bold')

fig.savefig('out.png', dpi=100, facecolor='white')
